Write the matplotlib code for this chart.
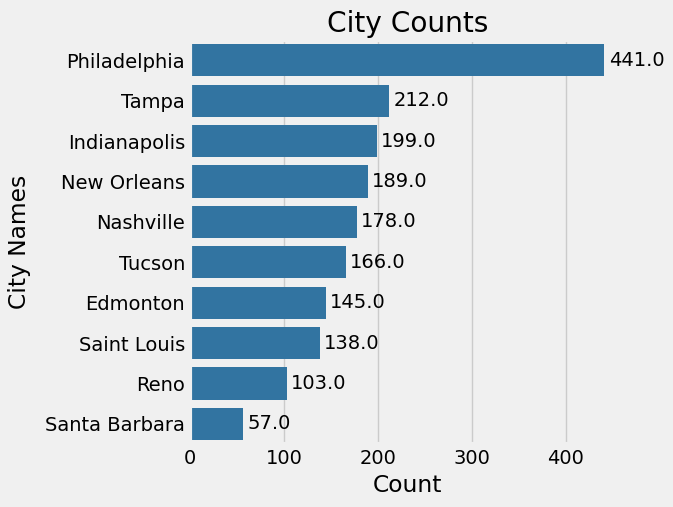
import matplotlib.pyplot as plt
import seaborn as sns
import pandas as pd

# City counts
cities = ['Philadelphia', 'Tampa', 'Indianapolis', 'New Orleans', 'Nashville',
          'Tucson', 'Edmonton', 'Saint Louis', 'Reno', 'Santa Barbara']
counts = [441.0, 212.0, 199.0, 189.0, 178.0, 166.0, 145.0, 138.0, 103.0, 57.0]

df = pd.DataFrame({'city': cities, 'count': counts})

plt.style.use('fivethirtyeight')
fig, ax = plt.subplots(figsize=(6.73, 5.07), dpi=100)

sns.barplot(data=df, x='count', y='city', color='#1f77b4', ax=ax)

for c in ax.containers:
    ax.bar_label(c, fmt='%.1f', padding=3)

ax.set_title('City Counts')
ax.set_xlabel('Count')
ax.set_ylabel('City Names', labelpad=10)

fig.subplots_adjust(left=0.282, right=0.929, top=0.921, bottom=0.124)
fig.savefig('out.png')
